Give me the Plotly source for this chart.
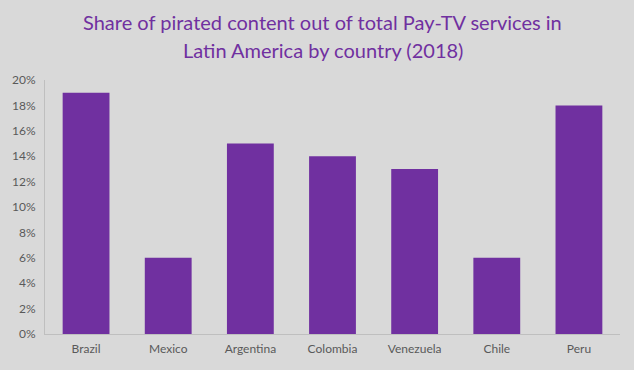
import plotly.graph_objects as go

countries = ["Brazil", "Mexico", "Argentina", "Colombia", "Venezuela", "Chile", "Peru"]
shares = [0.19, 0.06, 0.15, 0.14, 0.13, 0.06, 0.18]
tick_vals = [i / 100 for i in range(0, 21, 2)]
tick_text = [f"{i}%" for i in range(0, 21, 2)]
title_lines = ["Share of pirated content out of total Pay-TV services in",
               "Latin America by country (2018)"]

fig = go.Figure(go.Bar(x=countries, y=shares, marker_color="#7030a0",
                       marker_line_width=0, width=0.57))
fig.update_layout(
    width=634, height=370,
    paper_bgcolor="#d9d9d9", plot_bgcolor="#d9d9d9",
    margin=dict(l=45, r=14, t=80, b=36),
    font=dict(family="Lato, Open Sans, sans-serif", color="#595959", size=12),
    showlegend=False,
)
for line, ypos in zip(title_lines, [1.228, 1.118]):
    fig.add_annotation(text=line, xref="paper", yref="paper", x=0.483, y=ypos,
                       xanchor="center", yanchor="middle", showarrow=False,
                       font=dict(size=20, color="#7030a0"))
fig.update_yaxes(range=[0, 0.2], tickvals=tick_vals, ticktext=tick_text,
                 showgrid=False, showline=True, linecolor="#bfbfbf", linewidth=1,
                 zeroline=False, ticks="", ticklabelstandoff=6)
fig.update_xaxes(showline=True, linecolor="#bfbfbf", linewidth=1, ticks="",
                 showgrid=False, ticklabelstandoff=4)
fig.write_html("out.html", config={"displayModeBar": False},
               post_script="document.body.style.margin='0';")
